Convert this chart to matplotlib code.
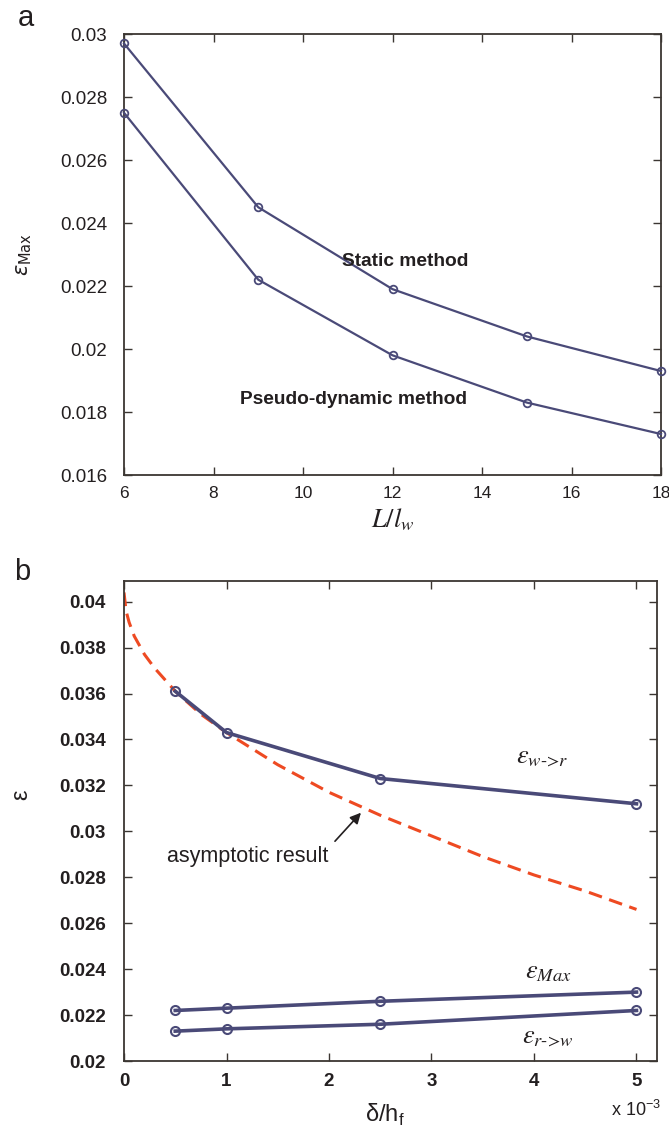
import matplotlib
matplotlib.use("Agg")
import matplotlib.pyplot as plt

# ---------------- data ----------------
# panel a
L_over_lw = [6, 9, 12, 15, 18]
eps_static = [0.0297, 0.0245, 0.0219, 0.0204, 0.0193]
eps_pseudo = [0.0275, 0.0222, 0.0198, 0.0183, 0.0173]
a_xticks = [6, 8, 10, 12, 14, 16, 18]
a_yticks = [0.016, 0.018, 0.02, 0.022, 0.024, 0.026, 0.028, 0.03]
a_yticklabels = ["0.016", "0.018", "0.02", "0.022", "0.024", "0.026", "0.028", "0.03"]

# panel b (x in units of 1e-3)
delta_hf = [0.5, 1.0, 2.5, 5.0]
eps_w_to_r = [0.0361, 0.0343, 0.0323, 0.0312]
eps_max = [0.0222, 0.0223, 0.0226, 0.0230]
eps_r_to_w = [0.0213, 0.0214, 0.0216, 0.0222]
asym_x = [0.0, 0.02, 0.05, 0.1, 0.2, 0.3, 0.5, 0.75, 1.0, 1.5, 2.0, 2.5, 3.0, 3.5, 4.0, 4.5, 5.0]
asym_y = [0.0404, 0.0396, 0.0391, 0.0385, 0.0377, 0.0371, 0.0361, 0.0351, 0.0343,
          0.0329, 0.0317, 0.0307, 0.0298, 0.0289, 0.0281, 0.0274, 0.0266]
b_xticks = [0, 1, 2, 3, 4, 5]
b_yticks = [0.02, 0.022, 0.024, 0.026, 0.028, 0.03, 0.032, 0.034, 0.036, 0.038, 0.04]
b_yticklabels = ["0.02", "0.022", "0.024", "0.026", "0.028", "0.03", "0.032",
                 "0.034", "0.036", "0.038", "0.04"]

# ---------------- style ----------------
LINE = "#4a4a78"
SPINE = "#3b3632"
RED = "#ee4a22"
TXT = "#231f20"
plt.rcParams["font.family"] = ["Liberation Sans", "DejaVu Sans"]

W, H = 669, 1138
fig = plt.figure(figsize=(W / 100, H / 100), dpi=100)


def fx(px):
    return px / W


def fy(py):
    return 1 - py / H


# ---------------- panel a ----------------
axa = fig.add_axes([fx(124), fy(475), 537 / W, 441 / H])
for ys in (eps_static, eps_pseudo):
    axa.plot(L_over_lw, ys, color=LINE, lw=1.6, marker="o", ms=5.5,
             mfc="none", mec=LINE, mew=1.3, clip_on=False, zorder=3)
axa.set_xlim(6, 18)
axa.set_ylim(0.016, 0.03)
axa.set_xticks(a_xticks)
axa.set_xticklabels([str(t) for t in a_xticks])
axa.set_yticks(a_yticks)
axa.set_yticklabels(a_yticklabels)
axa.tick_params(direction="in", top=True, right=True, length=6, width=1,
                color=SPINE, labelsize=13.5, labelcolor=TXT)
axa.tick_params(axis="y", pad=12)
axa.tick_params(axis="x", pad=8, labelsize=12.5)
for s in axa.spines.values():
    s.set_color(SPINE)
    s.set_linewidth(1.3)
axa.set_xlabel(r"$L/l_w$", fontsize=19, color=TXT, math_fontfamily="stix")
axa.xaxis.set_label_coords(0.5, -(520 - 475) / 441)
axa.xaxis.label.set_va("center")
axa.set_ylabel(r"$\varepsilon_{\mathrm{Max}}$", fontsize=15, color=TXT)
axa.yaxis.set_label_coords(-(124 - 34) / 537, 0.5)
fig.text(fx(405), fy(262), "Static method", fontsize=13.8, color=TXT,
         ha="center", va="center", fontweight="bold")
fig.text(fx(354), fy(400), "Pseudo-dynamic method", fontsize=13.8,
         color=TXT, ha="center", va="center", fontweight="bold")
fig.text(fx(26), fy(18), "a", fontsize=21, color=TXT, ha="center", va="center")

# ---------------- panel b ----------------
axb = fig.add_axes([fx(124), fy(1061), 533 / W, 480 / H])
axb.plot(asym_x, asym_y, color=RED, lw=2.2, ls=(0, (4.5, 2.5)), zorder=2)
for ys in (eps_w_to_r, eps_max, eps_r_to_w):
    axb.plot(delta_hf, ys, color=LINE, lw=2.6, marker="o", ms=6.5,
             mfc="none", mec=LINE, mew=1.5, zorder=3)
axb.set_xlim(0, 5.2)
axb.set_ylim(0.02, 0.0409)
axb.set_xticks(b_xticks)
axb.set_xticklabels([str(t) for t in b_xticks])
axb.set_yticks(b_yticks)
axb.set_yticklabels(b_yticklabels)
axb.tick_params(direction="in", top=True, right=True, length=6, width=1,
                color=SPINE, labelsize=13.5, labelcolor=TXT)
axb.tick_params(axis="y", pad=13)
axb.tick_params(axis="x", pad=9)
for lab in axb.get_xticklabels() + axb.get_yticklabels():
    lab.set_fontweight("bold")
for s in axb.spines.values():
    s.set_color(SPINE)
    s.set_linewidth(1.3)
axb.set_xlabel(r"δ/h$_\mathregular{f}$", fontsize=17, color=TXT)
axb.xaxis.set_label_coords((385 - 124) / 533, -(1115 - 1061) / 480)
axb.xaxis.label.set_va("center")
axb.set_ylabel("ε", fontsize=17, color=TXT)
axb.yaxis.set_label_coords(-(124 - 32) / 533, (1061 - 795) / 480)
fig.text(fx(636), fy(1110), r"x 10$^{\mathregular{-3}}$", fontsize=13,
         color=TXT, ha="center", va="center")
fig.text(fx(22), fy(572), "b", fontsize=21, color=TXT, ha="center", va="center")

axb.annotate("", xy=(2.33, 0.0309), xytext=(2.04, 0.02948),
             arrowprops=dict(arrowstyle="-|>", color=TXT, lw=1.2, mutation_scale=16))
axb.text(0.42, 0.0289, "asymptotic result", fontsize=15.5, color=TXT,
         ha="left", va="center")

fig.text(fx(542), fy(757), r"$\varepsilon_{w\text{->}r}$", fontsize=19,
         color=TXT, ha="center", va="center", math_fontfamily="stix")
fig.text(fx(548), fy(972), r"$\varepsilon_{Max}$", fontsize=19,
         color=TXT, ha="center", va="center", math_fontfamily="stix")
fig.text(fx(548), fy(1037), r"$\varepsilon_{r\text{->}w}$", fontsize=19,
         color=TXT, ha="center", va="center", math_fontfamily="stix")

fig.savefig("out.png", dpi=100)
